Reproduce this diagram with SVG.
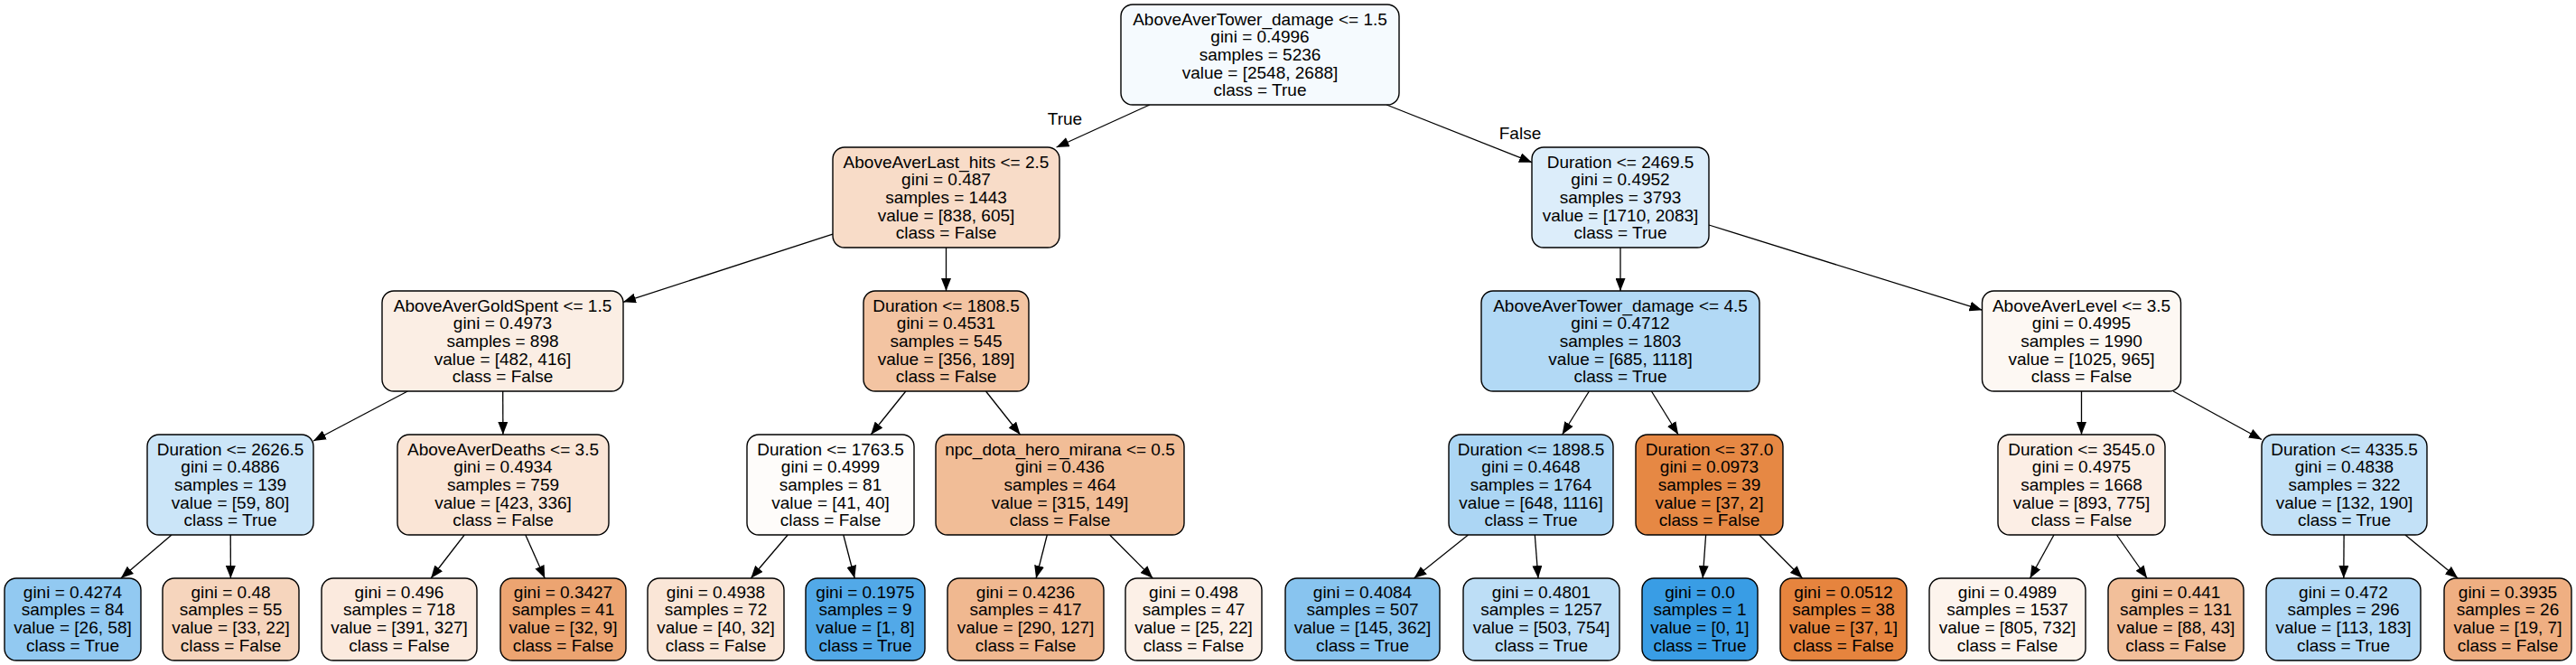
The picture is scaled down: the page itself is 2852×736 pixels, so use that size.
<svg xmlns="http://www.w3.org/2000/svg" width="2852" height="736" viewBox="0 0 2852 736">
<style>
.n rect{stroke:#000;stroke-width:1.4}
text{font-family:"Liberation Sans",Arial,Helvetica,sans-serif;font-size:19px;fill:#000;text-anchor:middle}
.e line{stroke:#000;stroke-width:1.3;marker-end:url(#ah)}
</style>
<defs>
<marker id="ah" markerUnits="userSpaceOnUse" markerWidth="14" markerHeight="11" refX="14" refY="5.5" orient="auto">
<path d="M0,0 L14,5.5 L0,11 Z" fill="#000"/>
</marker>
</defs>
<rect width="2852" height="736" fill="#fff"/>
<g id="edges" class="e">
<line x1="1272.9" y1="116" x2="1169.6" y2="163"/>
<line x1="1535.2" y1="116" x2="1696" y2="179.7"/>
<line x1="922" y1="259.1" x2="690" y2="334.3"/>
<line x1="1047.5" y1="274" x2="1047.5" y2="322"/>
<line x1="1794" y1="274" x2="1794" y2="322"/>
<line x1="1892" y1="249" x2="2194.5" y2="343.2"/>
<line x1="451.3" y1="433" x2="347" y2="488"/>
<line x1="556.7" y1="433" x2="556.9" y2="481"/>
<line x1="1002.8" y1="433" x2="964.2" y2="481"/>
<line x1="1091.5" y1="433" x2="1129.5" y2="481"/>
<line x1="1759.4" y1="433" x2="1729.6" y2="481"/>
<line x1="1828.4" y1="433" x2="1858.1" y2="481"/>
<line x1="2304.5" y1="433" x2="2304.5" y2="481"/>
<line x1="2406.1" y1="433" x2="2504" y2="486.5"/>
<line x1="190" y1="592" x2="133.8" y2="640"/>
<line x1="255.2" y1="592" x2="255.4" y2="640"/>
<line x1="514.2" y1="592" x2="477.1" y2="640"/>
<line x1="581.8" y1="592" x2="603.2" y2="640"/>
<line x1="872.2" y1="592" x2="831.3" y2="640"/>
<line x1="933.8" y1="592" x2="946.2" y2="640"/>
<line x1="1159.3" y1="592" x2="1147.1" y2="640"/>
<line x1="1228.6" y1="592" x2="1276.3" y2="640"/>
<line x1="1625.5" y1="592" x2="1565.5" y2="640"/>
<line x1="1699.3" y1="592" x2="1703" y2="640"/>
<line x1="1888.6" y1="592" x2="1885.2" y2="640"/>
<line x1="1947.8" y1="592" x2="1995.6" y2="640"/>
<line x1="2274" y1="592" x2="2247.5" y2="640"/>
<line x1="2343.4" y1="592" x2="2377.1" y2="640"/>
<line x1="2595.1" y1="592" x2="2594.8" y2="640"/>
<line x1="2662.9" y1="592" x2="2721.2" y2="640"/>
<text x="1179" y="138">True</text>
<text x="1683" y="154">False</text>
</g>
<g id="n0" class="n"><rect x="1241" y="5" width="308" height="111" rx="13" fill="#f5fafe"/>
<text x="1395" y="27.6">AboveAverTower_damage &lt;= 1.5<tspan x="1395" dy="19.7">gini = 0.4996</tspan><tspan x="1395" dy="19.7">samples = 5236</tspan><tspan x="1395" dy="19.7">value = [2548, 2688]</tspan><tspan x="1395" dy="19.7">class = True</tspan></text></g>
<g id="n1" class="n"><rect x="922" y="163" width="251" height="111" rx="13" fill="#f8dcc8"/>
<text x="1047.5" y="185.6">AboveAverLast_hits &lt;= 2.5<tspan x="1047.5" dy="19.7">gini = 0.487</tspan><tspan x="1047.5" dy="19.7">samples = 1443</tspan><tspan x="1047.5" dy="19.7">value = [838, 605]</tspan><tspan x="1047.5" dy="19.7">class = False</tspan></text></g>
<g id="n2" class="n"><rect x="1696" y="163" width="196" height="111" rx="13" fill="#dcedfa"/>
<text x="1794" y="185.6">Duration &lt;= 2469.5<tspan x="1794" dy="19.7">gini = 0.4952</tspan><tspan x="1794" dy="19.7">samples = 3793</tspan><tspan x="1794" dy="19.7">value = [1710, 2083]</tspan><tspan x="1794" dy="19.7">class = True</tspan></text></g>
<g id="n3" class="n"><rect x="423" y="322" width="267" height="111" rx="13" fill="#fbeee4"/>
<text x="556.5" y="344.6">AboveAverGoldSpent &lt;= 1.5<tspan x="556.5" dy="19.7">gini = 0.4973</tspan><tspan x="556.5" dy="19.7">samples = 898</tspan><tspan x="556.5" dy="19.7">value = [482, 416]</tspan><tspan x="556.5" dy="19.7">class = False</tspan></text></g>
<g id="n4" class="n"><rect x="956" y="322" width="183" height="111" rx="13" fill="#f3c4a2"/>
<text x="1047.5" y="344.6">Duration &lt;= 1808.5<tspan x="1047.5" dy="19.7">gini = 0.4531</tspan><tspan x="1047.5" dy="19.7">samples = 545</tspan><tspan x="1047.5" dy="19.7">value = [356, 189]</tspan><tspan x="1047.5" dy="19.7">class = False</tspan></text></g>
<g id="n5" class="n"><rect x="1640" y="322" width="308" height="111" rx="13" fill="#b2d9f5"/>
<text x="1794" y="344.6">AboveAverTower_damage &lt;= 4.5<tspan x="1794" dy="19.7">gini = 0.4712</tspan><tspan x="1794" dy="19.7">samples = 1803</tspan><tspan x="1794" dy="19.7">value = [685, 1118]</tspan><tspan x="1794" dy="19.7">class = True</tspan></text></g>
<g id="n6" class="n"><rect x="2194.5" y="322" width="220" height="111" rx="13" fill="#fdf8f3"/>
<text x="2304.5" y="344.6">AboveAverLevel &lt;= 3.5<tspan x="2304.5" dy="19.7">gini = 0.4995</tspan><tspan x="2304.5" dy="19.7">samples = 1990</tspan><tspan x="2304.5" dy="19.7">value = [1025, 965]</tspan><tspan x="2304.5" dy="19.7">class = False</tspan></text></g>
<g id="n7" class="n"><rect x="163" y="481" width="184" height="111" rx="13" fill="#cbe5f8"/>
<text x="255" y="503.6">Duration &lt;= 2626.5<tspan x="255" dy="19.7">gini = 0.4886</tspan><tspan x="255" dy="19.7">samples = 139</tspan><tspan x="255" dy="19.7">value = [59, 80]</tspan><tspan x="255" dy="19.7">class = True</tspan></text></g>
<g id="n8" class="n"><rect x="440" y="481" width="234" height="111" rx="13" fill="#fae5d6"/>
<text x="557" y="503.6">AboveAverDeaths &lt;= 3.5<tspan x="557" dy="19.7">gini = 0.4934</tspan><tspan x="557" dy="19.7">samples = 759</tspan><tspan x="557" dy="19.7">value = [423, 336]</tspan><tspan x="557" dy="19.7">class = False</tspan></text></g>
<g id="n9" class="n"><rect x="827" y="481" width="185" height="111" rx="13" fill="#fefcfa"/>
<text x="919.5" y="503.6">Duration &lt;= 1763.5<tspan x="919.5" dy="19.7">gini = 0.4999</tspan><tspan x="919.5" dy="19.7">samples = 81</tspan><tspan x="919.5" dy="19.7">value = [41, 40]</tspan><tspan x="919.5" dy="19.7">class = False</tspan></text></g>
<g id="n10" class="n"><rect x="1036" y="481" width="275" height="111" rx="13" fill="#f1bd97"/>
<text x="1173.5" y="503.6">npc_dota_hero_mirana &lt;= 0.5<tspan x="1173.5" dy="19.7">gini = 0.436</tspan><tspan x="1173.5" dy="19.7">samples = 464</tspan><tspan x="1173.5" dy="19.7">value = [315, 149]</tspan><tspan x="1173.5" dy="19.7">class = False</tspan></text></g>
<g id="n11" class="n"><rect x="1604" y="481" width="182" height="111" rx="13" fill="#acd6f4"/>
<text x="1695" y="503.6">Duration &lt;= 1898.5<tspan x="1695" dy="19.7">gini = 0.4648</tspan><tspan x="1695" dy="19.7">samples = 1764</tspan><tspan x="1695" dy="19.7">value = [648, 1116]</tspan><tspan x="1695" dy="19.7">class = True</tspan></text></g>
<g id="n12" class="n"><rect x="1811" y="481" width="163" height="111" rx="13" fill="#e68844"/>
<text x="1892.5" y="503.6">Duration &lt;= 37.0<tspan x="1892.5" dy="19.7">gini = 0.0973</tspan><tspan x="1892.5" dy="19.7">samples = 39</tspan><tspan x="1892.5" dy="19.7">value = [37, 2]</tspan><tspan x="1892.5" dy="19.7">class = False</tspan></text></g>
<g id="n13" class="n"><rect x="2212" y="481" width="185" height="111" rx="13" fill="#fceee5"/>
<text x="2304.5" y="503.6">Duration &lt;= 3545.0<tspan x="2304.5" dy="19.7">gini = 0.4975</tspan><tspan x="2304.5" dy="19.7">samples = 1668</tspan><tspan x="2304.5" dy="19.7">value = [893, 775]</tspan><tspan x="2304.5" dy="19.7">class = False</tspan></text></g>
<g id="n14" class="n"><rect x="2504" y="481" width="183" height="111" rx="13" fill="#c3e1f7"/>
<text x="2595.5" y="503.6">Duration &lt;= 4335.5<tspan x="2595.5" dy="19.7">gini = 0.4838</tspan><tspan x="2595.5" dy="19.7">samples = 322</tspan><tspan x="2595.5" dy="19.7">value = [132, 190]</tspan><tspan x="2595.5" dy="19.7">class = True</tspan></text></g>
<g id="l0" class="n"><rect x="5" y="640" width="151" height="91" rx="13" fill="#92c9f1"/>
<text x="80.5" y="661.5">gini = 0.4274<tspan x="80.5" dy="19.7">samples = 84</tspan><tspan x="80.5" dy="19.7">value = [26, 58]</tspan><tspan x="80.5" dy="19.7">class = True</tspan></text></g>
<g id="l1" class="n"><rect x="180" y="640" width="151" height="91" rx="13" fill="#f6d5bd"/>
<text x="255.5" y="661.5">gini = 0.48<tspan x="255.5" dy="19.7">samples = 55</tspan><tspan x="255.5" dy="19.7">value = [33, 22]</tspan><tspan x="255.5" dy="19.7">class = False</tspan></text></g>
<g id="l2" class="n"><rect x="356" y="640" width="172" height="91" rx="13" fill="#fbeade"/>
<text x="442" y="661.5">gini = 0.496<tspan x="442" dy="19.7">samples = 718</tspan><tspan x="442" dy="19.7">value = [391, 327]</tspan><tspan x="442" dy="19.7">class = False</tspan></text></g>
<g id="l3" class="n"><rect x="554" y="640" width="139" height="91" rx="13" fill="#eca471"/>
<text x="623.5" y="661.5">gini = 0.3427<tspan x="623.5" dy="19.7">samples = 41</tspan><tspan x="623.5" dy="19.7">value = [32, 9]</tspan><tspan x="623.5" dy="19.7">class = False</tspan></text></g>
<g id="l4" class="n"><rect x="717" y="640" width="151" height="91" rx="13" fill="#fae6d7"/>
<text x="792.5" y="661.5">gini = 0.4938<tspan x="792.5" dy="19.7">samples = 72</tspan><tspan x="792.5" dy="19.7">value = [40, 32]</tspan><tspan x="792.5" dy="19.7">class = False</tspan></text></g>
<g id="l5" class="n"><rect x="892" y="640" width="132" height="91" rx="13" fill="#52a9e8"/>
<text x="958" y="661.5">gini = 0.1975<tspan x="958" dy="19.7">samples = 9</tspan><tspan x="958" dy="19.7">value = [1, 8]</tspan><tspan x="958" dy="19.7">class = True</tspan></text></g>
<g id="l6" class="n"><rect x="1049" y="640" width="173" height="91" rx="13" fill="#f0b890"/>
<text x="1135.5" y="661.5">gini = 0.4236<tspan x="1135.5" dy="19.7">samples = 417</tspan><tspan x="1135.5" dy="19.7">value = [290, 127]</tspan><tspan x="1135.5" dy="19.7">class = False</tspan></text></g>
<g id="l7" class="n"><rect x="1246" y="640" width="151" height="91" rx="13" fill="#fcf0e7"/>
<text x="1321.5" y="661.5">gini = 0.498<tspan x="1321.5" dy="19.7">samples = 47</tspan><tspan x="1321.5" dy="19.7">value = [25, 22]</tspan><tspan x="1321.5" dy="19.7">class = False</tspan></text></g>
<g id="l8" class="n"><rect x="1423" y="640" width="171" height="91" rx="13" fill="#88c4ef"/>
<text x="1508.5" y="661.5">gini = 0.4084<tspan x="1508.5" dy="19.7">samples = 507</tspan><tspan x="1508.5" dy="19.7">value = [145, 362]</tspan><tspan x="1508.5" dy="19.7">class = True</tspan></text></g>
<g id="l9" class="n"><rect x="1620" y="640" width="173" height="91" rx="13" fill="#bddef6"/>
<text x="1706.5" y="661.5">gini = 0.4801<tspan x="1706.5" dy="19.7">samples = 1257</tspan><tspan x="1706.5" dy="19.7">value = [503, 754]</tspan><tspan x="1706.5" dy="19.7">class = True</tspan></text></g>
<g id="l10" class="n"><rect x="1818" y="640" width="128" height="91" rx="13" fill="#399de5"/>
<text x="1882" y="661.5">gini = 0.0<tspan x="1882" dy="19.7">samples = 1</tspan><tspan x="1882" dy="19.7">value = [0, 1]</tspan><tspan x="1882" dy="19.7">class = True</tspan></text></g>
<g id="l11" class="n"><rect x="1971" y="640" width="140" height="91" rx="13" fill="#e6843e"/>
<text x="2041" y="661.5">gini = 0.0512<tspan x="2041" dy="19.7">samples = 38</tspan><tspan x="2041" dy="19.7">value = [37, 1]</tspan><tspan x="2041" dy="19.7">class = False</tspan></text></g>
<g id="l12" class="n"><rect x="2136" y="640" width="173" height="91" rx="13" fill="#fdf4ed"/>
<text x="2222.5" y="661.5">gini = 0.4989<tspan x="2222.5" dy="19.7">samples = 1537</tspan><tspan x="2222.5" dy="19.7">value = [805, 732]</tspan><tspan x="2222.5" dy="19.7">class = False</tspan></text></g>
<g id="l13" class="n"><rect x="2334" y="640" width="150" height="91" rx="13" fill="#f2bf9a"/>
<text x="2409" y="661.5">gini = 0.441<tspan x="2409" dy="19.7">samples = 131</tspan><tspan x="2409" dy="19.7">value = [88, 43]</tspan><tspan x="2409" dy="19.7">class = False</tspan></text></g>
<g id="l14" class="n"><rect x="2509" y="640" width="171" height="91" rx="13" fill="#b3d9f5"/>
<text x="2594.5" y="661.5">gini = 0.472<tspan x="2594.5" dy="19.7">samples = 296</tspan><tspan x="2594.5" dy="19.7">value = [113, 183]</tspan><tspan x="2594.5" dy="19.7">class = True</tspan></text></g>
<g id="l15" class="n"><rect x="2706" y="640" width="141" height="91" rx="13" fill="#efaf82"/>
<text x="2776.5" y="661.5">gini = 0.3935<tspan x="2776.5" dy="19.7">samples = 26</tspan><tspan x="2776.5" dy="19.7">value = [19, 7]</tspan><tspan x="2776.5" dy="19.7">class = False</tspan></text></g>
</svg>
